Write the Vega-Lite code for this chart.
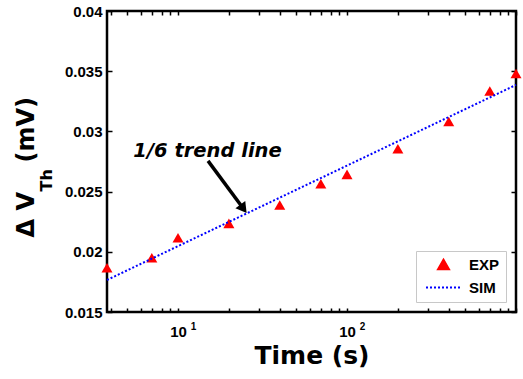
{
  "$schema": "https://vega.github.io/schema/vega-lite/v6.json",
  "width": 409,
  "height": 301,
  "autosize": "none",
  "padding": {"left": 107, "top": 11, "right": 7, "bottom": 67},
  "background": "white",
  "config": {
    "view": {"stroke": "black", "strokeWidth": 2.5},
    "axis": {
      "grid": false,
      "domain": false,
      "labelFont": "Liberation Sans",
      "labelFontWeight": "bold",
      "labelFontSize": 15,
      "labelColor": "black",
      "tickColor": "black",
      "tickWidth": 1.5,
      "titleFont": "DejaVu Sans",
      "titleFontWeight": "bold",
      "titleColor": "black",
      "labelOverlap": false,
      "labelFlush": false
    }
  },
  "datasets": {
    "exp": [
      {"t": 3.8, "v": 0.01868, "series": "EXP"},
      {"t": 7, "v": 0.0195, "series": "EXP"},
      {"t": 10, "v": 0.02117, "series": "EXP"},
      {"t": 20, "v": 0.02236, "series": "EXP"},
      {"t": 40, "v": 0.02388, "series": "EXP"},
      {"t": 70, "v": 0.02565, "series": "EXP"},
      {"t": 100, "v": 0.02643, "series": "EXP"},
      {"t": 200, "v": 0.02855, "series": "EXP"},
      {"t": 400, "v": 0.03083, "series": "EXP"},
      {"t": 700, "v": 0.03336, "series": "EXP"},
      {"t": 1000, "v": 0.0348, "series": "EXP"}
    ],
    "sim": [
      {"t": 3.8, "v": 0.01766, "series": "SIM"},
      {"t": 10, "v": 0.02047, "series": "SIM"},
      {"t": 100, "v": 0.02716, "series": "SIM"},
      {"t": 1000, "v": 0.03386, "series": "SIM"}
    ],
    "note": [
      {"t": 14.95, "v": 0.02789, "label": "1/6 trend line"}
    ],
    "arrow": [
      {"t1": 15.05, "v1": 0.02755, "t2": 24.4, "v2": 0.02357}
    ]
  },
  "resolve": {"axis": {"x": "independent", "y": "independent"}},
  "layer": [
    {
      "data": {"name": "exp"},
      "mark": {"type": "point", "filled": true, "size": 121, "opacity": 1, "shape": "triangle-up"},
      "encoding": {
        "x": {
          "field": "t", "type": "quantitative",
          "scale": {"type": "log", "domain": [3.8, 1000], "nice": false},
          "axis": {
            "orient": "bottom",
            "values": [4,5,6,7,8,9,10,20,30,40,50,60,70,80,90,100,200,300,400,500,600,700,800,900,1000],
            "labelExpr": "datum.value == 10 || datum.value == 100 ? '10' : ''",
            "tickSize": -4,
            "labelPadding": 16,
            "title": "Time (s)",
            "titleFontSize": 25,
            "titleBaseline": "alphabetic",
            "titleY": 51
          }
        },
        "y": {
          "field": "v", "type": "quantitative",
          "scale": {"domain": [0.015, 0.04], "nice": false, "zero": false},
          "axis": {
            "orient": "left",
            "values": [0.015, 0.02, 0.025, 0.03, 0.035, 0.04],
            "format": "~g",
            "tickSize": -5,
            "labelPadding": 10,
            "title": "Δ V",
            "titleFontSize": 24,
            "titleAngle": 270,
            "titleAlign": "left",
            "titleBaseline": "alphabetic",
            "titleX": -74,
            "titleY": 226
          }
        },
        "color": {
          "field": "series", "type": "nominal",
          "scale": {"domain": ["EXP", "SIM"], "range": ["#ff0000", "#0000ff"]},
          "legend": {
            "title": null,
            "orient": "bottom-right",
            "offset": 10,
            "padding": 6,
            "strokeColor": "#c8c8c8",
            "fillColor": "white",
            "labelFont": "Liberation Sans",
            "labelFontWeight": "bold",
            "labelFontSize": 15,
            "labelColor": "black",
            "symbolSize": 121,
            "symbolOffset": 14,
            "labelOffset": 18,
            "rowPadding": 6,
            "encode": {
              "symbols": {
                "update": {
                  "shape": {"signal": "datum.value === 'SIM' ? 'stroke' : 'triangle-up'"},
                  "size": {"signal": "datum.value === 'SIM' ? 1225 : 121"},
                  "fill": {"signal": "datum.value === 'SIM' ? 'transparent' : '#ff0000'"},
                  "stroke": {"signal": "datum.value === 'SIM' ? '#0000ff' : 'transparent'"},
                  "strokeDash": {"signal": "datum.value === 'SIM' ? [2, 2] : [1, 0]"},
                  "strokeWidth": {"value": 2},
                  "opacity": {"value": 1}
                }
              }
            }
          }
        }
      }
    },
    {
      "data": {"name": "sim"},
      "mark": {"type": "line", "strokeDash": [2, 2], "strokeWidth": 2},
      "encoding": {
        "x": {
          "field": "t", "type": "quantitative",
          "axis": {
            "orient": "top",
            "values": [4,5,6,7,8,9,10,20,30,40,50,60,70,80,90,100,200,300,400,500,600,700,800,900,1000],
            "labels": false,
            "tickSize": -4,
            "title": null
          }
        },
        "y": {
          "field": "v", "type": "quantitative",
          "axis": {
            "orient": "left",
            "labels": false,
            "ticks": false,
            "title": "Th",
            "titleFontSize": 16,
            "titleAngle": 270,
            "titleAlign": "left",
            "titleBaseline": "alphabetic",
            "titleX": -56,
            "titleY": 180
          }
        },
        "color": {
          "field": "series", "type": "nominal",
          "legend": {
            "title": null,
            "orient": "bottom-right",
            "offset": 10,
            "padding": 6,
            "strokeColor": "#c8c8c8",
            "fillColor": "white",
            "labelFont": "Liberation Sans",
            "labelFontWeight": "bold",
            "labelFontSize": 15,
            "labelColor": "black",
            "symbolSize": 121,
            "symbolOffset": 14,
            "labelOffset": 18,
            "rowPadding": 6,
            "encode": {
              "symbols": {
                "update": {
                  "shape": {"signal": "datum.value === 'SIM' ? 'stroke' : 'triangle-up'"},
                  "size": {"signal": "datum.value === 'SIM' ? 1225 : 121"},
                  "fill": {"signal": "datum.value === 'SIM' ? 'transparent' : '#ff0000'"},
                  "stroke": {"signal": "datum.value === 'SIM' ? '#0000ff' : 'transparent'"},
                  "strokeDash": {"signal": "datum.value === 'SIM' ? [2, 2] : [1, 0]"},
                  "strokeWidth": {"value": 2},
                  "opacity": {"value": 1}
                }
              }
            }
          }
        }
      }
    },
    {
      "data": {"name": "note"},
      "mark": {"type": "text", "font": "DejaVu Sans", "fontWeight": "bold", "fontStyle": "italic", "fontSize": 19.5, "align": "center", "baseline": "alphabetic", "color": "black"},
      "encoding": {
        "x": {
          "field": "t", "type": "quantitative",
          "axis": {
            "orient": "bottom",
            "values": [10, 100],
            "labelExpr": "datum.value == 10 ? '1' : '2'",
            "ticks": false,
            "tickSize": 0,
            "labelFontSize": 10,
            "labelOffset": 15,
            "labelPadding": 9,
            "title": null
          }
        },
        "y": {
          "field": "v", "type": "quantitative",
          "axis": {
            "orient": "left",
            "labels": false,
            "ticks": false,
            "title": "(mV)",
            "titleFontSize": 24,
            "titleAngle": 270,
            "titleAlign": "left",
            "titleBaseline": "alphabetic",
            "titleX": -74,
            "titleY": 151
          }
        },
        "text": {"field": "label"}
      }
    },
    {
      "data": {"name": "arrow"},
      "mark": {"type": "rule", "color": "black", "strokeWidth": 3.5},
      "encoding": {
        "x": {"field": "t1", "type": "quantitative", "axis": null},
        "y": {
          "field": "v1", "type": "quantitative",
          "axis": {
            "orient": "right",
            "values": [0.015, 0.02, 0.025, 0.03, 0.035, 0.04],
            "labels": false,
            "tickSize": -5,
            "title": null
          }
        },
        "x2": {"field": "t2"},
        "y2": {"field": "v2"}
      }
    },
    {
      "data": {"name": "arrow"},
      "mark": {"type": "point", "shape": "triangle-up", "filled": true, "color": "black", "opacity": 1, "size": 150, "angle": 143.5},
      "encoding": {
        "x": {"field": "t2", "type": "quantitative", "axis": null},
        "y": {"field": "v2", "type": "quantitative", "axis": null}
      }
    }
  ]
}
